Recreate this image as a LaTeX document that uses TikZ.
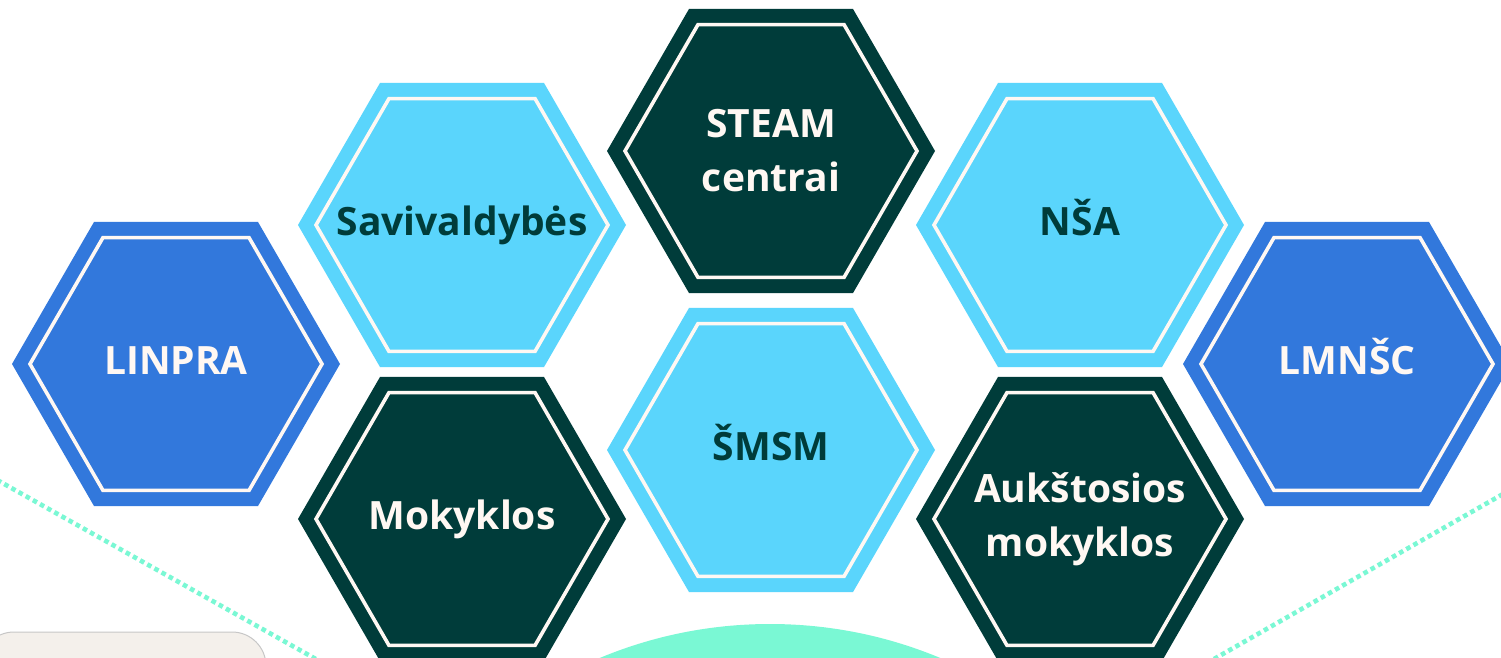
\documentclass[tikz,border=0pt]{standalone}
\usepackage{fontspec}
\setmainfont{Open Sans}
\usepackage{tikz}
\usetikzlibrary{shapes.geometric,positioning}
\definecolor{hxblue}{RGB}{50,120,220}
\definecolor{hxcyan}{RGB}{90,213,252}
\definecolor{hxdark}{RGB}{0,60,58}
\definecolor{hxwhite}{RGB}{255,248,243}
\definecolor{hxmint}{RGB}{122,248,212}
\definecolor{hxbeige}{RGB}{244,240,235}
\newcommand{\hexfont}{\fontsize{39}{54}\selectfont\bfseries}
\tikzstyle{hexa} = [regular polygon, regular polygon sides=6, minimum size=328pt, inner sep=-40pt, align=center, font=\hexfont,
  path picture={\draw[color=hxwhite, line width=3.6pt] ([shift={(0:146pt)}]path picture bounding box.center)
    \foreach \a in {60,120,...,300} {-- ([shift={(\a:146pt)}]path picture bounding box.center)} -- cycle;}]
\tikzstyle{hexblue} = [hexa, fill=hxblue, text=hxwhite]
\tikzstyle{hexcyan} = [hexa, fill=hxcyan, text=hxdark]
\tikzstyle{hexdark} = [hexa, fill=hxdark, text=hxwhite]
\tikzstyle{oneline} = [text height=27.8pt, text depth=6pt]
\tikzstyle{dotline} = [color=hxmint, line width=4.6pt, dash pattern=on 4.6pt off 3.6pt]
\begin{document}
\begin{tikzpicture}[x=1pt, y=-1pt]
\useasboundingbox (0,0) rectangle (1501,658);
\clip (0,0) rectangle (1501,658);
% Background
\fill[white] (0,0) rectangle (1501,658);
\draw[dotline] (-10,476) -- (330,667);
\draw[dotline] (1510,490) -- (1200,667);
\fill[hxmint] (770,1066) circle (442);
\draw[fill=hxbeige, draw=black!22, line width=1pt, rounded corners=34pt] (-20,632) rectangle (266,720);

% Hexagons
\node (linpra) [hexblue, oneline] at (176,364) {LINPRA};
\node (savivald) [hexcyan, oneline] at (462,225) {Savivaldybės};
\node (steam) [hexdark] at (771,151) {STEAM\\centrai};
\node (nsa) [hexcyan, oneline] at (1080,225) {NŠA};
\node (lmnsc) [hexblue, oneline] at (1347,364) {LMNŠC};
\node (mokyklos) [hexdark, oneline] at (462,519) {Mokyklos};
\node (smsm) [hexcyan, oneline] at (771,450) {ŠMSM};
\node (aukstosios) [hexdark] at (1080,519) {Aukštosios\\mokyklos};
\end{tikzpicture}
\end{document}
